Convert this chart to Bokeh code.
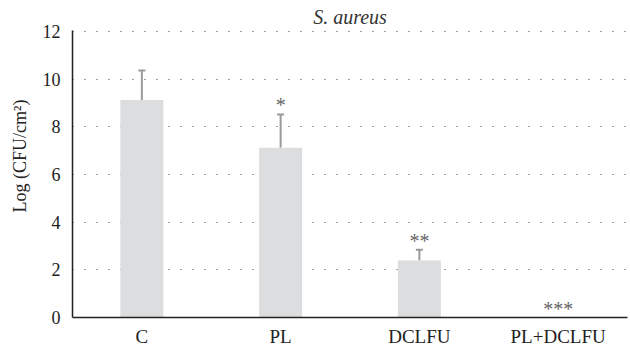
from bokeh.plotting import figure
from bokeh.models import ColumnDataSource, Whisker, TeeHead, FixedTicker, Range1d, FactorRange
from bokeh.core.properties import value
from bokeh.embed import file_html
from bokeh.resources import INLINE

categories = ["C", "PL", "DCLFU", "PL+DCLFU"]
means = [9.12, 7.12, 2.39, 0.0]
errors = [1.24, 1.40, 0.45, 0.0]
stars = ["", "*", "**", "***"]
y_ticks = [0, 2, 4, 6, 8, 10, 12]
title_text = "S. aureus"
y_label = "Log (CFU/cm²)"

FONT = "Liberation Serif"

p = figure(
    x_range=FactorRange(*categories, range_padding=0),
    y_range=Range1d(0, 12.04),
    frame_width=555, frame_height=287,
    output_backend="svg", toolbar_location=None,
    min_border_left=72, min_border_right=1, min_border_top=20, min_border_bottom=5,
)
p.outline_line_color = None
p.background_fill_color = "white"
p.border_fill_color = "white"

p.title.text = title_text
p.title.align = "center"
p.title.text_font = FONT
p.title.text_font_style = "italic"
p.title.text_font_size = "20px"
p.title.text_color = "#333333"
p.title.standoff = 6

src = ColumnDataSource(dict(cat=categories, mean=means, err=errors,
                            top=[m + e for m, e in zip(means, errors)], star=stars))
p.vbar(x="cat", top="mean", bottom=0, width=0.31, source=src,
       fill_color="#dcdddf", line_color=None)

idx = [i for i, e in enumerate(errors) if e > 0]
wsrc = ColumnDataSource(dict(cat=[categories[i] for i in idx],
                             lower=[means[i] for i in idx],
                             upper=[means[i] + errors[i] for i in idx]))
w = Whisker(base="cat", lower="lower", upper="upper", source=wsrc,
            line_color="#9a9a9a", line_width=2,
            upper_head=TeeHead(size=7, line_color="#9a9a9a", line_width=2),
            lower_head=None)
p.add_layout(w)

p.text(x="cat", y="top", text="star", source=src, y_offset=2,
       text_align="center", text_baseline="bottom",
       text_font=value(FONT), text_font_size="20px", text_color="#666666")

p.xgrid.grid_line_color = None
p.ygrid.grid_line_color = "#444444"
p.ygrid.grid_line_dash = "1 11"
p.ygrid.grid_line_width = 1
p.ygrid.ticker = FixedTicker(ticks=[2, 4, 6, 8, 10, 12])

p.yaxis.ticker = FixedTicker(ticks=y_ticks)
p.yaxis.axis_label = "\u00a0" * 8 + y_label
for ax in (p.xaxis[0], p.yaxis[0]):
    ax.major_tick_line_color = None
    ax.minor_tick_line_color = None
    ax.axis_line_color = "#222222"
    ax.axis_line_width = 1.5
    ax.major_label_text_font = FONT
    ax.major_label_text_color = "#222222"
p.yaxis.major_label_text_font_size = "18px"
p.xaxis.major_label_text_font_size = "19px"
p.yaxis.major_label_standoff = 6
p.xaxis.major_label_standoff = 2
p.yaxis.axis_label_text_font = FONT
p.yaxis.axis_label_text_font_style = "normal"
p.yaxis.axis_label_text_font_size = "18px"
p.yaxis.axis_label_text_color = "#222222"
p.yaxis.axis_label_standoff = 10

open("out.html", "w").write(file_html(p, INLINE))
